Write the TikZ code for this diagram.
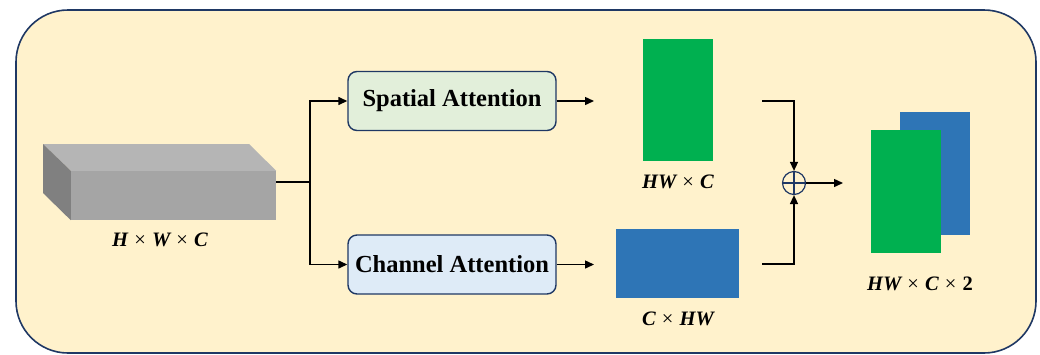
\documentclass[tikz,border=0pt]{standalone}
\usepackage{fontspec}
\setmainfont{Liberation Serif}
\usetikzlibrary{arrows.meta,calc}
\definecolor{panel}{HTML}{FFF2CC}
\definecolor{navy}{HTML}{1F3864}
\definecolor{sagreen}{HTML}{E2EFDA}
\definecolor{cablue}{HTML}{DEEBF7}
\definecolor{mapgreen}{HTML}{00B050}
\definecolor{mapblue}{HTML}{2E75B6}
\definecolor{cubetop}{HTML}{B5B5B5}
\definecolor{cubefront}{HTML}{A5A5A5}
\definecolor{cubeside}{HTML}{808080}
% multiplication sign between bold italic dimension letters
\newcommand{\dimx}{\hspace{0.3em}{\upshape\mdseries ×}\hspace{0.3em}}
\tikzset{
  attbox/.style={draw=navy, line width=1.4pt, rounded corners=9pt, minimum width=208pt,
    minimum height=59pt, inner sep=0pt, font=\fontsize{24.5}{27}\selectfont\bfseries},
  fmap/.style={inner sep=0pt, draw=none},
  dimlabel/.style={inner sep=0pt, font=\fontsize{20.5}{23}\selectfont\bfseries\itshape},
  conn/.style={line width=1.4pt, black},
  arr/.style={conn, -{Triangle[length=9pt,width=8pt]}},
}
\begin{document}
\begin{tikzpicture}[x=1pt,y=-1pt]
\useasboundingbox (0,0) rectangle (1040,354);
\clip (0,0) rectangle (1040,354);
% outer panel
\draw[navy, line width=1.6pt, fill=panel, rounded corners=52pt] (16,10) rectangle (1036,353);

% input feature cube
\node[fmap, fill=cubefront, minimum width=205pt, minimum height=49pt] (cube) at (173.5,195.5) {};
\fill[cubetop] (43,144) -- (249,144) -- (cube.north east) -- (cube.north west) -- cycle;
\fill[cubeside] (43,144) -- (cube.north west) -- (cube.south west) -- (43,193) -- cycle;
\node[dimlabel] (cubelbl) at (160,240) {H\dimx W\dimx C};

% attention branches
\node[attbox, fill=sagreen] (sa) at (452,101) {Spatial Attention};
\node[attbox, fill=cablue] (ca) at (452,264.5) {Channel Attention};

\coordinate (out) at (276,182);
\coordinate (split) at (310,182);
\draw[conn] (out) -- (split);
\draw[arr] (split) |- (sa.west);
\draw[arr] (split) |- (ca.west);

\coordinate (saend) at (594,101);
\coordinate (caend) at (594,264.5);
\draw[arr] (sa.east) -- (saend);
\draw[arr] (ca.east) -- (caend);

% attention maps
\node[fmap, fill=mapgreen, minimum width=70pt, minimum height=122pt] (smap) at (678,100) {};
\node[dimlabel] (smaplbl) at (678,182) {HW\dimx C};
\node[fmap, fill=mapblue, minimum width=123pt, minimum height=69pt] (cmap) at (677.5,263.5) {};
\node[dimlabel] (cmaplbl) at (678,319) {C\dimx HW};

% fusion
\node[circle, draw=navy, line width=1.2pt, minimum size=23pt, inner sep=0pt,
  path picture={\draw[navy, line width=1.2pt]
    (path picture bounding box.north) -- (path picture bounding box.south)
    (path picture bounding box.west) -- (path picture bounding box.east);}] (plus) at (794,183) {};
\coordinate (t1) at (762,101);
\coordinate (t2) at (762,264);
\draw[arr] (t1) -| (plus.north);
\draw[arr] (t2) -| (plus.south);
\coordinate (fout) at (843,183);
\draw[arr] (plus.east) -- (fout);

% fused output
\node[fmap, fill=mapblue, minimum width=70pt, minimum height=123pt] (ob) at (935,173.5) {};
\node[fmap, fill=mapgreen, minimum width=70pt, minimum height=123pt] (og) at (906,191.5) {};
\node[dimlabel] (olbl) at (920,284) {HW\dimx C\dimx{\upshape 2}};
\end{tikzpicture}
\end{document}
